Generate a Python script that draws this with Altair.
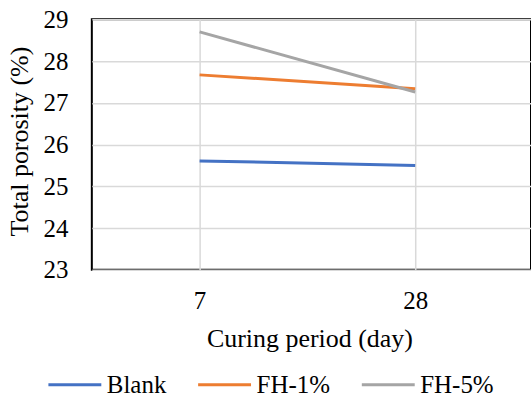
import altair as alt
import pandas as pd

days = ["7", "28"]
series = ["Blank", "FH-1%", "FH-5%"]
blank = [25.61, 25.50]
fh1 = [27.67, 27.34]
fh5 = [28.70, 27.26]
colors = ["#4472C4", "#ED7D31", "#A5A5A5"]

rows = []
for name, vals in zip(series, [blank, fh1, fh5]):
    for d, v in zip(days, vals):
        rows.append({"day": d, "series": name, "value": v})
df = pd.DataFrame(rows)

FONT = "Liberation Serif"
FS = 25

chart = alt.Chart(df).mark_line(strokeWidth=3).encode(
    x=alt.X("day:O", sort=days,
            scale=alt.Scale(type="point", padding=0.5185, align=0.482),
            axis=alt.Axis(title="Curing period (day)", labelAngle=0, ticks=False,
                          domain=False, grid=True, labelFont=FONT,
                          labelPadding=19, titlePadding=12, titleX=218)),
    y=alt.Y("value:Q",
            scale=alt.Scale(domain=[23, 29], nice=False, zero=False),
            axis=alt.Axis(title="Total porosity (%)", values=[23, 24, 25, 26, 27, 28, 29],
                          ticks=False, domain=False, grid=True, labelPadding=24,
                          labelFont=FONT,
                          titleX=-72, titleY=122,
                          titleBaseline="middle", titleAlign="center", titleAngle=-90)),
    color=alt.Color("series:N", sort=series,
                    scale=alt.Scale(domain=series, range=colors),
                    legend=alt.Legend(title=None, orient="none", direction="horizontal",
                                      legendX=-45, legendY=338,
                                      symbolType="stroke", symbolSize=2809,
                                      symbolStrokeWidth=3, labelOffset=4,
                                      columnPadding=25)),
).properties(
    width=440, height=251,
    autosize=alt.AutoSizeParams(type="none"),
    padding={"left": 92, "top": 19, "right": 0, "bottom": 128},
).configure(
    font=FONT
).configure_view(
    stroke="#000000", strokeWidth=2
).configure_axis(
    labelFont=FONT, labelFontSize=FS, labelColor="#000000",
    titleFont=FONT, titleFontSize=26, titleFontWeight="normal", titleColor="#000000",
    gridColor="#D9D9D9", gridWidth=1.5,
).configure_legend(
    labelFont=FONT, labelFontSize=FS, labelColor="#000000",
)

chart.save("out.html", embed_options={"renderer": "svg", "actions": False})
